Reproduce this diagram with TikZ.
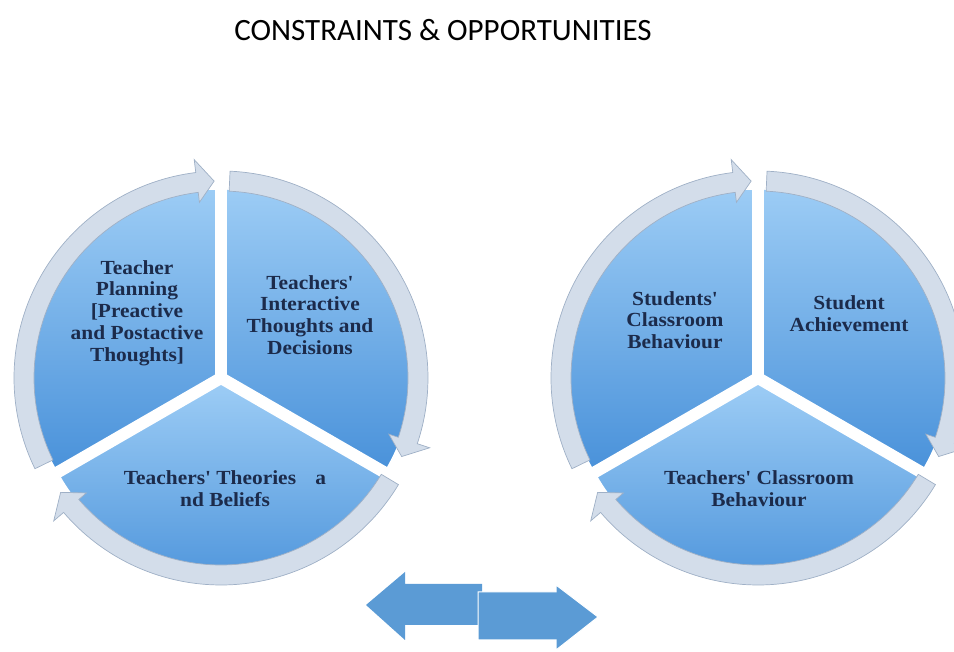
\documentclass[tikz,border=0pt]{standalone}
\usepackage{fontspec}
\newfontfamily\lblfont[FakeStretch=1.07]{Liberation Serif}
\newfontfamily\titlefont{Carlito}
\definecolor{navy}{HTML}{1C2B4B}
\definecolor{ringfill}{HTML}{D3DDEA}
\definecolor{ringedge}{HTML}{9FB0C6}
\definecolor{segtop}{HTML}{9CCCF5}
\definecolor{segbot}{HTML}{4A92DA}
\definecolor{arrowblue}{HTML}{5B9BD5}
\tikzset{
  lbl/.style={align=center, text=navy, inner sep=0pt,
    font=\lblfont\bfseries\fontsize{20}{21.8}\selectfont},
  ringstyle/.style={fill=ringfill, draw=ringedge, line width=0.7pt},
  segstyle/.style={top color=segtop, bottom color=segbot, draw=white, line width=1.5pt},
  bigarrow/.style={fill=arrowblue, draw=white, line width=1pt},
  pics/ringarc/.style 2 args={code={
    \pgfmathsetmacro\hb{#2+5}
    \filldraw[ringstyle] (#1:207) arc[start angle=#1, end angle=\hb, radius=207]
      -- (\hb:220) -- (#2:197) -- (\hb:177) -- (\hb:187)
      arc[start angle=\hb, end angle=#1, radius=187] -- cycle;
  }},
  pics/pieseg/.style 2 args={code={
    \pgfmathsetmacro\segmid{(#1+#2)/2}
    \shadedraw[segstyle, shift={(\segmid:6)}] (0,0) -- (#1:186)
      arc[start angle=#1, end angle=#2, radius=186] -- cycle;
  }}
}
\begin{document}
\begin{tikzpicture}[x=1pt,y=1pt]
\useasboundingbox (0,0) rectangle (954,652);
% title
\node[anchor=base, font=\titlefont\fontsize{31}{36}\selectfont, text=black] (title) at (443,611) {CONSTRAINTS \& OPPORTUNITIES};
% left cycle
\coordinate (L) at (221,274);
\pic at (L) {pieseg={90}{210}};
\pic at (L) {pieseg={-30}{90}};
\pic at (L) {pieseg={210}{330}};
\pic at (L) {ringarc={206}{92}};
\pic at (L) {ringarc={87.5}{-23.5}};
\pic at (L) {ringarc={-31}{-144.5}};
% right cycle
\coordinate (R) at (758,274);
\pic at (R) {pieseg={90}{210}};
\pic at (R) {pieseg={-30}{90}};
\pic at (R) {pieseg={210}{330}};
\pic at (R) {ringarc={206}{92}};
\pic at (R) {ringarc={87.5}{-23.5}};
\pic at (R) {ringarc={-31}{-144.5}};
% labels
\node[lbl] (tp) at (137,339) {Teacher\\Planning\\{[}Preactive\\and Postactive\\Thoughts{]}};
\node[lbl] (ti) at (310,337) {Teachers'\\Interactive\\Thoughts and\\Decisions};
\node[lbl] (tb) at (225,163) {Teachers' Theories\hspace{14pt} a\\nd Beliefs};
\node[lbl] (sc) at (675,332) {Students'\\Classroom\\Behaviour};
\node[lbl] (sa) at (849,338) {Student\\Achievement};
\node[lbl] (tc) at (759,163) {Teachers' Classroom\\Behaviour};
% bottom double arrows
\fill[arrowblue] (366,47) -- (405,80) -- (405,68) -- (482,68) -- (482,27) -- (405,27) -- (405,12) -- cycle;
\filldraw[bigarrow] (478,60) -- (556,60) -- (556,67) -- (598,35) -- (556,2) -- (556,12) -- (478,12) -- cycle;
\end{tikzpicture}
\end{document}
